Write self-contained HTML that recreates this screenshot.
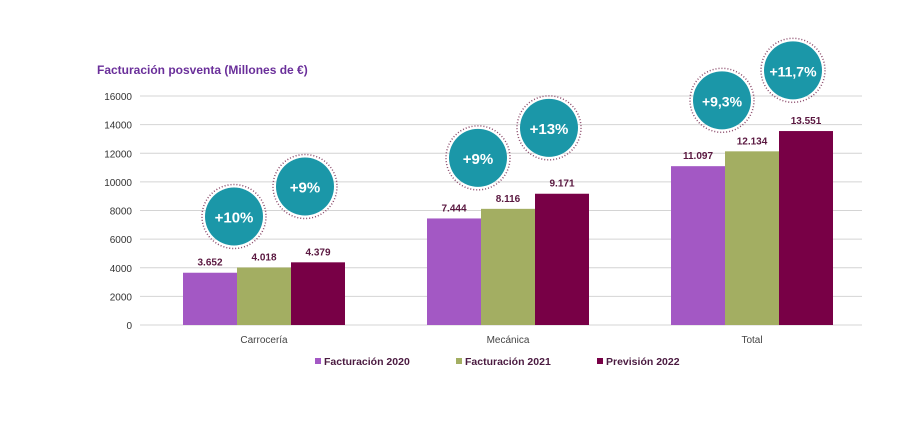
<!DOCTYPE html>
<html><head><meta charset="utf-8"><style>
body{margin:0;background:#fff;font-family:"Liberation Sans",sans-serif}
svg text{font-family:"Liberation Sans",sans-serif}
</style></head><body>
<svg width="900" height="433" viewBox="0 0 900 433">
<text x="97" y="74" font-size="12" font-weight="bold" fill="#6a2f9a">Facturación posventa (Millones de €)</text>
<g id="grid"></g><g id="bars"></g><g id="bubbles"></g><g id="legend"></g>
</svg>
<script>
const categories=["Carrocería","Mecánica","Total"];
const series=["Facturación 2020","Facturación 2021","Previsión 2022"];
const v2020=[3652,7444,11097];
const v2021=[4018,8116,12134];
const v2022=[4379,9171,13551];
const valueLabels=[["3.652","7.444","11.097"],["4.018","8.116","12.134"],["4.379","9.171","13.551"]];
const growth21=["+10%","+9%","+9,3%"];
const growth22=["+9%","+13%","+11,7%"];
const ticks=[0,2000,4000,6000,8000,10000,12000,14000,16000];
const colors=["#a358c4","#a3ae62","#780046"];
const NS="http://www.w3.org/2000/svg";
function mk(t,a,p){const e=document.createElementNS(NS,t);for(const k in a)e.setAttribute(k,a[k]);p.appendChild(e);return e;}
const y=v=>325-v*(229/16000);
const cx=i=>264+i*244;
const bw=54;
const grid=document.getElementById('grid');
ticks.forEach(t=>{
 const l=mk('line',{x1:140,x2:862,y1:y(t),y2:y(t),stroke:'#d4d4d4','stroke-width':1},grid);
 
 
 const tx=mk('text',{x:132,y:y(t)+4,'text-anchor':'end','font-size':10,fill:'#333'},grid);
 tx.textContent=t;
 
 
});
const bars=document.getElementById('bars');
const all=[v2020,v2021,v2022];
categories.forEach((c,i)=>{
 all.forEach((arr,s)=>{
  const x=cx(i)-1.5*bw+s*bw;
  const r=mk('rect',{x:x,y:y(arr[i]),width:bw,height:325-y(arr[i]),fill:colors[s]},bars);
  
  
  const t=mk('text',{x:x+bw/2,y:y(arr[i])-7,'text-anchor':'middle','font-size':10,'font-weight':'bold',fill:'#5a1840'},bars);
  t.textContent=valueLabels[s][i];
  
  
 });
 const ct=mk('text',{x:cx(i),y:343,'text-anchor':'middle','font-size':10,fill:'#444'},bars);
 ct.textContent=c;
 
 
});
const bub=document.getElementById('bubbles');
function bubble(x,yy,label){
 const g=mk('g',{},bub);
 
 
 mk('circle',{cx:x,cy:yy,r:32,fill:'none',stroke:'#8a4a6a','stroke-width':1.5,'stroke-dasharray':'1 2'},g);
 mk('circle',{cx:x,cy:yy,r:29,fill:'#1b97a8'},g);
 const t=mk('text',{x:x,y:yy+6,'text-anchor':'middle','font-size':label.length>4?14:15,'font-weight':'bold',fill:'#fff'},g);
 t.textContent=label;
}
categories.forEach((c,i)=>{
 const top21=Math.max(v2020[i],v2021[i]);
 const bx=cx(i)-30, by=y(top21)-51;
 bubble(bx,by,growth21[i]);
 bubble(bx+71,by-30,growth22[i]);
});
const leg=document.getElementById('legend');
const lx=[315,456,597];
series.forEach((s,k)=>{
 const g=mk('g',{},leg);
 
 
 mk('rect',{x:lx[k],y:358,width:6,height:6,fill:colors[k]},g);
 const t=mk('text',{x:lx[k]+9,y:365,'font-size':10.5,'font-weight':'bold',fill:'#4a1a40'},g);
 t.textContent=s;
});
</script>
</body></html>
